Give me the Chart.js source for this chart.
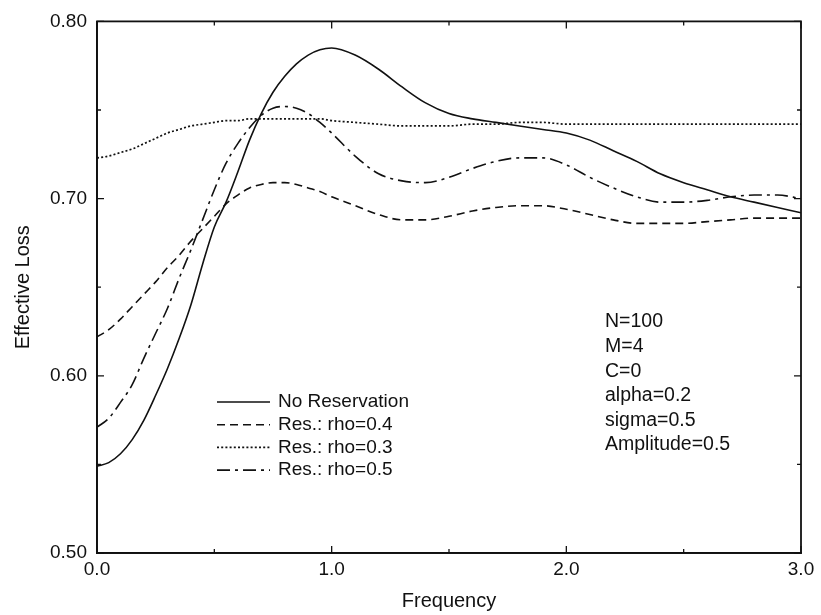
<!DOCTYPE html>
<html>
<head>
<meta charset="utf-8">
<script src="https://cdn.jsdelivr.net/npm/chart.js@4.4.1/dist/chart.umd.min.js"></script>
<style>
  html, body { margin: 0; padding: 0; background: #fff; }
  #wrap { width: 821px; height: 615px; }
</style>
</head>
<body>
<div id="wrap"><canvas id="c" width="821" height="615"></canvas></div>
<script>
// ---- data ----
const frequency = [0.00,0.05,0.10,0.15,0.20,0.25,0.30,0.35,0.40,0.45,0.50,0.55,0.60,0.65,0.70,0.75,0.80,0.85,0.90,0.95,1.00,
                   1.1,1.2,1.3,1.4,1.5,1.6,1.7,1.8,1.9,2.0,2.1,2.2,2.3,2.4,2.5,2.6,2.7,2.8,2.9,3.0];

const noReservation = [0.549,0.551,0.556,0.564,0.575,0.589,0.604,0.621,0.640,0.663,0.684,0.698,0.715,0.733,0.748,0.760,0.769,0.776,0.781,0.784,0.785,
                       0.781,0.773,0.763,0.754,0.748,0.745,0.743,0.741,0.739,0.737,0.733,0.727,0.721,0.714,0.709,0.705,0.701,0.698,0.695,0.692];

const resRho04 = [0.622,0.626,0.632,0.639,0.646,0.653,0.661,0.668,0.676,0.683,0.690,0.697,0.702,0.706,0.708,0.709,0.709,0.708,0.706,0.704,0.701,
                  0.696,0.691,0.688,0.688,0.690,0.693,0.695,0.696,0.696,0.694,0.691,0.688,0.686,0.686,0.686,0.687,0.688,0.689,0.689,0.689];

const resRho03 = [0.723,0.724,0.726,0.728,0.731,0.734,0.737,0.739,0.741,0.742,0.743,0.744,0.744,0.745,0.745,0.745,0.745,0.745,0.745,0.745,0.744,
                  0.743,0.742,0.741,0.741,0.741,0.742,0.742,0.743,0.743,0.742,0.742,0.742,0.742,0.742,0.742,0.742,0.742,0.742,0.742,0.742];

const resRho05 = [0.571,0.576,0.585,0.595,0.610,0.624,0.638,0.655,0.671,0.688,0.705,0.720,0.731,0.740,0.747,0.751,0.752,0.751,0.748,0.743,0.737,
                  0.724,0.714,0.710,0.709,0.712,0.717,0.721,0.723,0.723,0.719,0.712,0.706,0.701,0.698,0.698,0.699,0.701,0.702,0.702,0.700];

const seriesLabels = ['No Reservation','Res.: rho=0.4','Res.: rho=0.3','Res.: rho=0.5'];
const paramLines = ['N=100','M=4','C=0','alpha=0.2','sigma=0.5','Amplitude=0.5'];
const xTitle = 'Frequency';
const yTitle = 'Effective Loss';

// ---- chart ----
const FONT = 'Liberation Sans, Arial, Helvetica, sans-serif';
const INK = '#111';

function pts(vals) { return frequency.map((f, i) => ({ x: f, y: vals[i] })); }

const styles = [
  { dash: [], width: 1.6 },
  { dash: [8, 5], width: 1.6 },
  { dash: [2, 2.2], width: 1.7 },
  { dash: [13, 5, 3, 5], width: 1.6 }
];
const seriesValues = [noReservation, resRho04, resRho03, resRho05];

const datasets = seriesValues.map((v, i) => ({
  label: seriesLabels[i],
  data: pts(v),
  showLine: true,
  borderColor: INK,
  borderWidth: styles[i].width,
  borderDash: styles[i].dash,
  pointRadius: 0,
  fill: false,
  cubicInterpolationMode: 'monotone'
}));

const isMajorX = v => Math.abs(v - Math.round(v)) < 1e-6;
const isMajorY = v => Math.abs(v * 10 - Math.round(v * 10)) < 1e-6;

const framePlugin = {
  id: 'frame',
  afterDraw(chart) {
    const { ctx, chartArea: a, scales } = chart;
    ctx.save();
    ctx.strokeStyle = INK;
    ctx.lineWidth = 1.8;
    ctx.setLineDash([]);
    ctx.strokeRect(a.left, a.top, a.right - a.left, a.bottom - a.top);
    ctx.lineWidth = 1.3;
    scales.x.ticks.forEach(t => {
      const px = scales.x.getPixelForValue(t.value);
      const len = isMajorX(t.value) ? 7 : 4;
      ctx.beginPath();
      ctx.moveTo(px, a.bottom); ctx.lineTo(px, a.bottom - len);
      ctx.moveTo(px, a.top); ctx.lineTo(px, a.top + len);
      ctx.stroke();
    });
    scales.y.ticks.forEach(t => {
      const py = scales.y.getPixelForValue(t.value);
      const len = isMajorY(t.value) ? 7 : 4;
      ctx.beginPath();
      ctx.moveTo(a.left, py); ctx.lineTo(a.left + len, py);
      ctx.moveTo(a.right, py); ctx.lineTo(a.right - len, py);
      ctx.stroke();
    });
    ctx.restore();
  }
};

const legendPlugin = {
  id: 'innerLegend',
  afterDraw(chart) {
    const { ctx } = chart;
    ctx.save();
    ctx.font = '19px ' + FONT;
    ctx.fillStyle = INK;
    ctx.textBaseline = 'middle';
    chart.data.datasets.forEach((ds, i) => {
      const y = 402 + i * 22.7;
      ctx.strokeStyle = INK;
      ctx.lineWidth = ds.borderWidth;
      ctx.setLineDash(ds.borderDash || []);
      ctx.beginPath();
      ctx.moveTo(217, y); ctx.lineTo(270, y);
      ctx.stroke();
      ctx.setLineDash([]);
      ctx.fillText(ds.label, 278, y);
    });
    ctx.font = '19.5px ' + FONT;
    paramLines.forEach((s, i) => {
      ctx.fillText(s, 605, 322 + i * 24.6);
    });
    ctx.restore();
  }
};

new Chart(document.getElementById('c'), {
  type: 'scatter',
  data: { datasets },
  options: {
    responsive: false,
    animation: false,
    layout: { padding: { left: 11, right: 20, top: 17, bottom: 2 } },
    plugins: { legend: { display: false }, tooltip: { enabled: false } },
    scales: {
      x: {
        type: 'linear', min: 0, max: 3,
        ticks: {
          stepSize: 0.5, autoSkip: false, maxRotation: 0, padding: 5,
          color: INK, font: { size: 19, family: FONT },
          callback: v => isMajorX(v) ? v.toFixed(1) : ''
        },
        grid: { display: false, drawTicks: false },
        border: { display: true, color: INK, width: 1.8 },
        title: { display: true, text: xTitle, color: INK, font: { size: 20, family: FONT }, padding: { top: 0, bottom: 0 } },
        afterFit: s => { s.height = 60; }
      },
      y: {
        type: 'linear', min: 0.5, max: 0.8,
        ticks: {
          stepSize: 0.05, autoSkip: false, padding: 10,
          color: INK, font: { size: 19, family: FONT },
          callback: v => isMajorY(v) ? v.toFixed(2) : ''
        },
        grid: { display: false, drawTicks: false },
        border: { display: true, color: INK, width: 1.8 },
        title: { display: true, text: yTitle, color: INK, font: { size: 20, family: FONT }, padding: { top: 0, bottom: 0 } },
        afterFit: s => { s.width = 86; }
      }
    }
  },
  plugins: [framePlugin, legendPlugin]
});
</script>
</body>
</html>
